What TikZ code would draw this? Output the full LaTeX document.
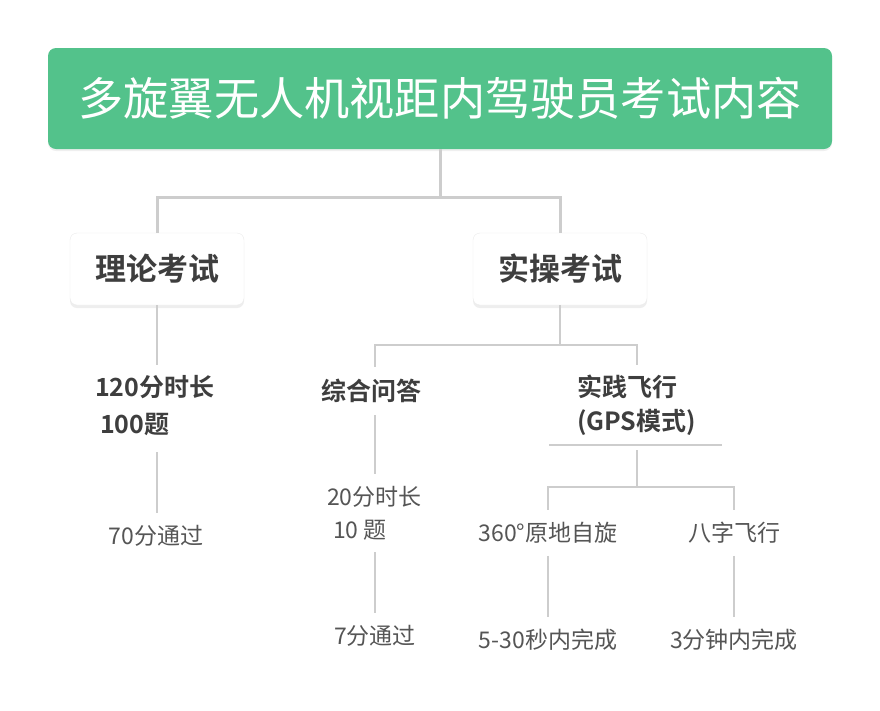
\documentclass[tikz,border=0pt]{standalone}
\usepackage{fontspec}
\setmainfont{Noto Sans CJK SC}[BoldFont={* Bold}]
\usetikzlibrary{shadows}
\definecolor{tgreen}{HTML}{53C28B}
\definecolor{lgray}{HTML}{CDCDCD}
\definecolor{dtext}{HTML}{3E3E3E}
\definecolor{rtext}{HTML}{555555}
\tikzset{
  titlebox/.style={fill=tgreen, rounded corners=8pt, minimum width=784pt, minimum height=101pt,
    text=white, font=\fontsize{45.2}{50}\selectfont, inner sep=0pt,
    drop shadow={shadow xshift=0pt, shadow yshift=-2pt, opacity=0.12}},
  topicbox/.style={fill=white, draw=black!8, rounded corners=7pt, minimum width=174pt, minimum height=72pt,
    text=dtext, font=\fontsize{31}{34}\selectfont\bfseries, inner sep=0pt,
    drop shadow={shadow xshift=0pt, shadow yshift=-3pt, opacity=0.13}},
  boldtxt/.style={text=dtext, font=\fontsize{25}{37}\selectfont\bfseries, inner sep=0pt},
  regtxt/.style={text=rtext, font=\fontsize{23}{33}\selectfont, inner sep=0pt},
  mainconn/.style={draw=lgray, line width=3pt},
  subconn/.style={draw=lgray, line width=1.6pt, shorten >=12pt, shorten <=12pt},
}
\begin{document}
\begin{tikzpicture}[x=1pt,y=-1pt]
\useasboundingbox (0,0) rectangle (880,710);
\fill[white] (0,0) rectangle (880,710);

% title and main topics
\node[titlebox] (title) at (440,98.5) {多旋翼无人机视距内驾驶员考试内容};
\node[topicbox] (theory) at (157,269) {理论考试};
\node[topicbox] (practice) at (560,269) {实操考试};

\draw[mainconn] (title.south) -- ++(0,48) -| (theory.north);
\draw[mainconn] (title.south) -- ++(0,48) -| (practice.north);

% theory branch
\node[boldtxt, anchor=west, align=left] (t1) at (95,406) {120分时长\\\hspace{5pt}100题};
\node[regtxt] (t2) at (156,536) {70分通过};
\draw[mainconn, line width=1.6pt, shorten >=11pt] (theory.south) -- (t1.north -| theory.south);
\draw[subconn, shorten <=16pt] (t1.south -| theory.south) -- (t2.north -| theory.south);

% practice branch
\node[boldtxt] (q) at (371,391) {综合问答};
\node[boldtxt, anchor=west, align=left, font=\fontsize{25}{34}\selectfont\bfseries] (f) at (577,405) {实践飞行\\(GPS模式)};
\coordinate (ftop) at (637,375);
\draw[subconn, shorten <=0pt] (practice.south) -- ++(0,40) -| (q.north -| 375,0);
\draw[subconn, shorten <=0pt, shorten >=0pt] (practice.south) -- ++(0,40) -| (ftop |- 0,365);

\node[regtxt, anchor=west, align=left] (q1) at (327,513) {20分时长\\\hspace{6pt}10 题};
\node[regtxt] (q2) at (375,636) {7分通过};
\draw[subconn] (q.south -| 375,0) -- (q1.north -| 375,0);
\draw[subconn] (q1.south -| 375,0) -- (q2.north);

% underline of practice flight
\coordinate (ul) at (637,445);
\draw[draw=lgray, line width=1.6pt] (549,445) -- (722,445);

\node[regtxt] (f1) at (548,533) {360°原地自旋};
\node[regtxt] (f2) at (734,533) {八字飞行};
\node[regtxt] (f3) at (548,640) {5-30秒内完成};
\node[regtxt] (f4) at (734,640) {3分钟内完成};
\draw[subconn, shorten <=5pt] (ul) -- ++(0,42) -| (f1.north);
\draw[subconn, shorten <=5pt] (ul) -- ++(0,42) -| (f2.north);
\draw[subconn] (f1.south) -- (f3.north);
\draw[subconn] (f2.south) -- (f4.north);
\end{tikzpicture}
\end{document}
